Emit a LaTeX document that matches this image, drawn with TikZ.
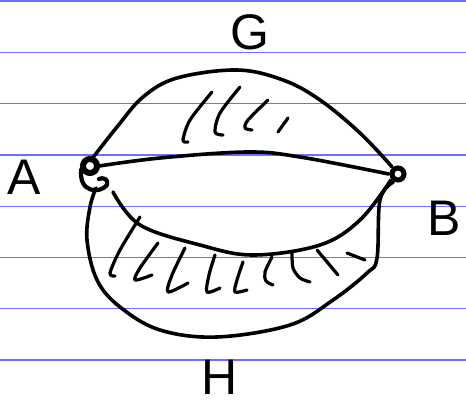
\documentclass[tikz,border=0pt]{standalone}
\usepackage{fontspec}
\setmainfont{Liberation Sans}
\usetikzlibrary{positioning}
\definecolor{ruleblue}{RGB}{110,110,255}

\begin{document}
\begin{tikzpicture}[x=1pt,y=-1pt,
 stroke/.style={line width=3.6pt,line cap=round,line join=round},
 hatch/.style={line width=3.2pt,line cap=round,line join=round},
 vertex/.style={circle,inner sep=0pt,minimum size=18pt},
 ring/.style={line width=#1},
 letter/.style={font=\fontsize{50}{50}\selectfont,inner sep=0pt}]
\useasboundingbox (0,0) rectangle (466,404);
\fill[white] (0,0) rectangle (466,404);
\foreach \i in {0,...,7}
  \draw[ruleblue,line width=1.3pt] (0,1+51.3*\i) -- (466,1+51.3*\i);

\node[vertex] (A) at (90,166) {};
\node[vertex] (B) at (398,174) {};
\coordinate (lensL) at (113,192);
\draw[ring=6pt] (A) circle[radius=7pt];
\draw[ring=5pt] (B) circle[radius=6pt];

\node[letter] (labA) at (24,177) {A};
\node[letter] (labB) at (444,218) {B};
\node[letter] (labG) at (250,32) {G};
\node[letter] (labH) at (220,377) {H};

% lower twist of A
\draw[stroke,line width=4.2pt] (A.200) .. controls (78,193) and (100,194) .. (107,185)
  .. controls (109,179) and (103,177) .. (99,179);

% edge G
\draw[stroke] plot[smooth,tension=0.6] coordinates {(A.70) (117,127) (143,97) (177,78)
  (237,70) (283,80) (320,100) (360,133) (B.130)};
% lens
\draw[stroke] plot[smooth,tension=0.6] coordinates {(A.east) (160,158) (247,152)
  (300,157) (B.west)};
\draw[stroke] plot[smooth,tension=0.6] coordinates {(lensL) (140,225) (200,245)
  (253,255) (320,245) (360,220) (B.220)};
% edge H
\draw[stroke] plot[smooth,tension=0.6] coordinates {(96,188) (90,207) (87,240) (97,280)
  (120,307) (160,330) (217,337) (290,325) (333,300) (367,273) (377,258) (380,200) (B.240)};

% hatching of G
\draw[hatch] plot[smooth] coordinates {(212,92) (190,120) (183,140) (188,142)};
\draw[hatch] plot[smooth] coordinates {(240,87) (220,113) (215,132) (223,135)};
\draw[hatch] plot[smooth] coordinates {(268,100) (248,120) (245,128) (252,130)};
\draw[hatch] (288,118) -- (278,132);
% hatching of H
\draw[hatch] plot[smooth] coordinates {(140,217) (120,250) (110,273) (115,276)};
\draw[hatch] plot[smooth] coordinates {(158,243) (140,268) (135,280) (152,275)};
\draw[hatch] plot[smooth] coordinates {(185,248) (172,275) (168,292) (188,283)};
\draw[hatch] plot[smooth] coordinates {(215,255) (209,275) (207,292) (220,288)};
\draw[hatch] plot[smooth] coordinates {(243,262) (237,280) (235,292) (247,290)};
\draw[hatch] plot[smooth] coordinates {(272,257) (265,272) (266,281) (273,285)};
\draw[hatch] plot[smooth] coordinates {(292,253) (293,268) (300,278) (310,282)};
\draw[hatch] (317,250) -- (338,275);
\draw[hatch] (347,253) -- (365,260);
\end{tikzpicture}
\end{document}
